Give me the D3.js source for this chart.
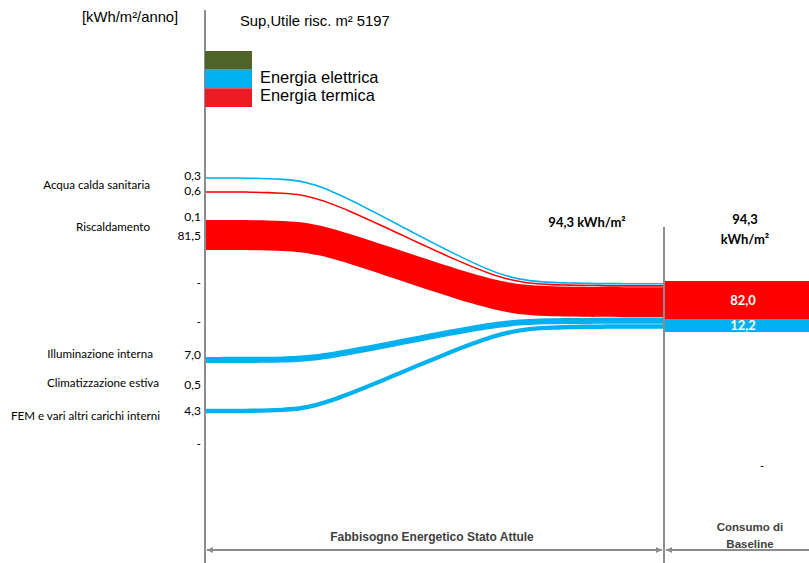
<!DOCTYPE html>
<html>
<head>
<meta charset="utf-8">
<script src="https://cdn.jsdelivr.net/npm/d3@7"></script>
<style>
  body { margin: 0; background: #fff; }
  svg { display: block; }
</style>
</head>
<body>
<svg id="chart" width="809" height="563"></svg>
<script>
// ---- data -------------------------------------------------------------
const categories = ["Acqua calda sanitaria", "Riscaldamento", "Illuminazione interna",
                    "Climatizzazione estiva", "FEM e vari altri carichi interni"];
const electric = [0.3, 0.1, 7.0, 0.5, 4.3];   // kWh/m²/anno, energia elettrica
const thermal  = [0.6, 81.5, 0, 0, 0];         // kWh/m²/anno, energia termica
const baselineLabels = ["Energia termica", "Energia elettrica"];
const baselineValues = [82.0, 12.2];
const totalValue = 94.3;
const legendLabels = ["", "Energia elettrica", "Energia termica"];
const surface = 5197;
// flows drawn from each end use: [category index, carrier]
const flowList = [[0, "el"], [0, "th"], [1, "th"], [2, "el"], [4, "el"]];
// value column on the left: [category index, carrier] or null for an empty row
const valueRows = [[0, "el"], [0, "th"], [1, "el"], [1, "th"], null, null,
                   [2, "el"], [3, "el"], [4, "el"], null];

// ---- layout -----------------------------------------------------------
const W = 809, H = 563;
const xAxis = 205, xDiv = 664;
const catY = [185, 227, 354, 383, 416];
const catEnd = [150, 150, 153, 159, 160];
const valueY = [176, 191, 217, 236, 283, 322, 355, 385, 411, 444];
const flowLeftY = [178, 192, 235, 360, 411];
// spline control points along a flow: x position and how far (0..1) it has moved
const flowKnotX = [xAxis, 290, 330, 490, 540, xDiv];
const flowKnotT = [0, 0, 0.08, 0.92, 1, 1];
const stackTop = 283, stackGap = 0.5;
const barTop = 281;

const colors = { el: "#00b0f0", th: "#ff0000", green: "#4f6228", legendRed: "#ed1c24" };
const fmt = v => d3.format(".1f")(v).replace(".", ",");
const valueOf = (c, k) => (k === "el" ? electric : thermal)[c];

const svg = d3.select("#chart");
const calibri = "Lato, 'Open Sans', sans-serif";
const arial = "'Liberation Sans', Arial, sans-serif";

// flow thickness and baseline bar height scales
const flowW = d3.scalePow().exponent(0.65).domain([0, 81.5]).range([0, 30]);
const barH = d3.scalePow().exponent(0.56).domain([0, 82]).range([0, 38]);
const thick = v => Math.max(1.6, flowW(v));

// ---- flows --------------------------------------------------------------
const area = d3.area()
  .x(d => d.x).y0(d => d.y0).y1(d => d.y1)
  .curve(d3.curveBasis);

let yStack = stackTop;
const flows = flowList.map(([c, k], i) => {
  const v = valueOf(c, k);
  const t = thick(v);
  const l0 = flowLeftY[i] - t / 2;
  const r0 = yStack;
  yStack += t + stackGap;
  const pts = flowKnotX.map((x, j) => {
    const top = l0 + (r0 - l0) * flowKnotT[j];
    return { x, y0: top, y1: top + t };
  });
  return { k, pts };
});

svg.append("g").selectAll("path").data(flows).join("path")
  .attr("d", d => area(d.pts))
  .attr("fill", d => colors[d.k]);

// ---- baseline bar -------------------------------------------------------
let yb = barTop;
const bars = baselineValues.map((v, i) => {
  const h = barH(v);
  const r = { v, y: yb, h, k: i === 0 ? "th" : "el" };
  yb += h;
  return r;
});
const gBar = svg.append("g");
gBar.selectAll("rect").data(bars).join("rect")
  .attr("x", xDiv).attr("width", W - xDiv)
  .attr("y", d => d.y).attr("height", d => d.h)
  .attr("fill", d => colors[d.k]);
gBar.selectAll("text").data(bars).join("text")
  .attr("x", 743).attr("y", d => d.y + d.h / 2).attr("dy", "0.36em")
  .attr("text-anchor", "middle")
  .attr("font-family", calibri).attr("font-weight", "bold").attr("font-size", 13)
  .attr("fill", "#fff")
  .text(d => fmt(d.v));

// ---- axis lines ---------------------------------------------------------
svg.append("line").attr("x1", xAxis).attr("x2", xAxis).attr("y1", 10).attr("y2", H)
  .attr("stroke", "#8c8c8c").attr("stroke-width", 2);
svg.append("line").attr("x1", xDiv).attr("x2", xDiv).attr("y1", 227).attr("y2", H)
  .attr("stroke", "#8c8c8c").attr("stroke-width", 2);

// ---- left labels --------------------------------------------------------
svg.append("g").selectAll("text").data(categories).join("text")
  .attr("x", (d, i) => catEnd[i]).attr("y", (d, i) => catY[i]).attr("dy", "0.35em")
  .attr("text-anchor", "end")
  .attr("font-family", calibri).attr("font-size", 11.6).attr("fill", "#000")
  .text(d => d);

svg.append("g").selectAll("text").data(valueRows).join("text")
  .attr("x", 201).attr("y", (d, i) => valueY[i]).attr("dy", "0.35em")
  .attr("text-anchor", "end")
  .attr("font-family", calibri).attr("font-size", 12).attr("fill", "#000")
  .text(d => d ? fmt(valueOf(d[0], d[1])) : "-");

// ---- header ---------------------------------------------------------------
svg.append("text").attr("x", 82).attr("y", 22)
  .attr("font-family", arial).attr("font-size", 14.8).attr("fill", "#000")
  .text("[kWh/m²/anno]");
svg.append("text").attr("x", 240).attr("y", 26)
  .attr("font-family", arial).attr("font-size", 14.8).attr("fill", "#000")
  .text("Sup,Utile risc. m² " + surface);

// ---- legend ---------------------------------------------------------------
const legY = d3.scaleBand().domain(d3.range(legendLabels.length)).range([51, 107]);
const legColors = [colors.green, colors.el, colors.legendRed];
const gLeg = svg.append("g");
gLeg.selectAll("rect").data(legendLabels).join("rect")
  .attr("x", xAxis).attr("width", 47)
  .attr("y", (d, i) => legY(i)).attr("height", legY.bandwidth())
  .attr("fill", (d, i) => legColors[i]);
gLeg.selectAll("text").data(legendLabels).join("text")
  .attr("x", 260).attr("y", (d, i) => legY(i) + legY.bandwidth() / 2 - 2).attr("dy", "0.35em")
  .attr("font-family", arial).attr("font-size", 16.4).attr("fill", "#000")
  .text(d => d);

// ---- totals ---------------------------------------------------------------
svg.append("text").attr("x", 587).attr("y", 222).attr("dy", "0.35em")
  .attr("text-anchor", "middle")
  .attr("font-family", calibri).attr("font-weight", "bold").attr("font-size", 13)
  .text(fmt(totalValue) + " kWh/m²");
const tRight = svg.append("text").attr("text-anchor", "middle")
  .attr("font-family", calibri).attr("font-weight", "bold").attr("font-size", 13);
tRight.append("tspan").attr("x", 745).attr("y", 224).text(fmt(totalValue));
tRight.append("tspan").attr("x", 745).attr("y", 244).text("kWh/m²");

svg.append("text").attr("x", 762).attr("y", 470).attr("text-anchor", "middle")
  .attr("font-family", calibri).attr("font-size", 11).text("-");

// ---- bottom span arrows -----------------------------------------------------
const defs = svg.append("defs");
defs.append("marker").attr("id", "arr").attr("viewBox", "0 0 10 10")
  .attr("refX", 10).attr("refY", 5).attr("markerWidth", 6).attr("markerHeight", 6)
  .attr("markerUnits", "userSpaceOnUse")
  .attr("orient", "auto-start-reverse")
  .append("path").attr("d", "M0,0L10,5L0,10Z").attr("fill", "#8c8c8c");

const yArrow = 550;
svg.append("line").attr("x1", xAxis + 2).attr("x2", xDiv - 2).attr("y1", yArrow).attr("y2", yArrow)
  .attr("stroke", "#8c8c8c").attr("stroke-width", 2)
  .attr("marker-start", "url(#arr)").attr("marker-end", "url(#arr)");
svg.append("line").attr("x1", xDiv + 2).attr("x2", W).attr("y1", yArrow).attr("y2", yArrow)
  .attr("stroke", "#8c8c8c").attr("stroke-width", 2)
  .attr("marker-start", "url(#arr)");

svg.append("text").attr("x", 432).attr("y", 537).attr("dy", "0.35em")
  .attr("text-anchor", "middle")
  .attr("font-family", arial).attr("font-weight", "bold").attr("font-size", 12).attr("fill", "#404040")
  .text("Fabbisogno Energetico Stato Attule");
const tCons = svg.append("text").attr("text-anchor", "middle")
  .attr("font-family", arial).attr("font-weight", "bold").attr("font-size", 11.5).attr("fill", "#404040");
tCons.append("tspan").attr("x", 750).attr("y", 531).text("Consumo di");
tCons.append("tspan").attr("x", 750).attr("y", 548).text("Baseline");
</script>
</body>
</html>
